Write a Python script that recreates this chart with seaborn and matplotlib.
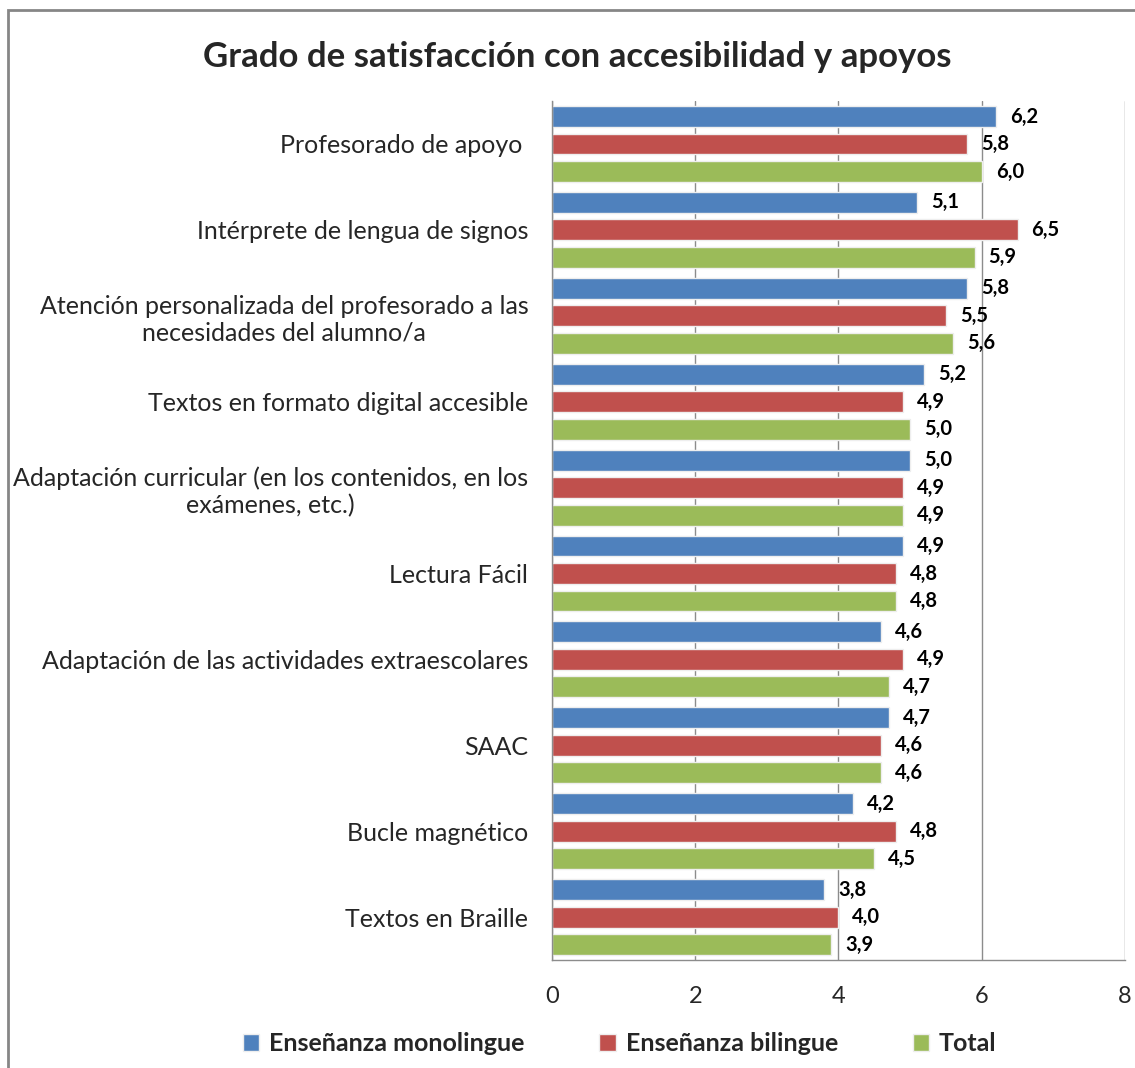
import pandas as pd
import matplotlib.pyplot as plt
import seaborn as sns
from matplotlib.patches import Patch, Rectangle

# Chart data
categories = [
    'Profesorado de apoyo ',
    'Intérprete de lengua de signos',
    'Atención personalizada del profesorado a las\nnecesidades del alumno/a',
    'Textos en formato digital accesible',
    'Adaptación curricular (en los contenidos, en los\nexámenes, etc.)',
    'Lectura Fácil',
    'Adaptación de las actividades extraescolares',
    'SAAC',
    'Bucle magnético',
    'Textos en Braille',
]
series = ['Enseñanza monolingue', 'Enseñanza bilingue', 'Total']
monolingue = [6.2, 5.1, 5.8, 5.2, 5.0, 4.9, 4.6, 4.7, 4.2, 3.8]
bilingue = [5.8, 6.5, 5.5, 4.9, 4.9, 4.8, 4.9, 4.6, 4.8, 4.0]
total = [6.0, 5.9, 5.6, 5.0, 4.9, 4.8, 4.7, 4.6, 4.5, 3.9]
colors = ['#4F81BD', '#C0504D', '#9BBB59']

df = pd.DataFrame({
    'categoria': categories * 3,
    'serie': [s for s in series for _ in categories],
    'valor': monolingue + bilingue + total,
})

sns.set_style('white')
plt.rcParams['font.family'] = ['Lato', 'DejaVu Sans']

fig = plt.figure(figsize=(11.35, 10.68), dpi=100)
ax = fig.add_axes([0.4863, 0.1011, 0.5049, 0.8043])

sns.barplot(data=df, x='valor', y='categoria', hue='serie', order=categories,
            hue_order=series, palette=colors, saturation=1, width=0.96, gap=0.24,
            edgecolor='#eeeeee', linewidth=1, orient='h', ax=ax, legend=False)

for cont in ax.containers:
    ax.bar_label(cont, labels=[f'{v:.1f}'.replace('.', ',') for v in cont.datavalues],
                 padding=10, fontsize=14.5, fontweight='bold', color='black')

ax.set_xlim(0, 8)
ax.set_xticks([0, 2, 4, 6, 8])
ax.xaxis.grid(True, color='#8c8c8c', linewidth=1)
ax.set_axisbelow(True)
ax.set_xlabel('')
ax.set_ylabel('')
ax.tick_params(axis='x', labelsize=17, pad=19, length=0)
ax.tick_params(axis='y', labelsize=18, pad=17, length=0)
for lab in ax.get_yticklabels():
    lab.set_multialignment('center')

for side in ['top', 'right']:
    ax.spines[side].set_visible(False)
for side in ['left', 'bottom']:
    ax.spines[side].set_color('#8c8c8c')
    ax.spines[side].set_linewidth(1)

fig.text(0.509, 0.9466, 'Grado de satisfacción con accesibilidad y apoyos',
         ha='center', va='center', fontsize=25, fontweight='bold')

handles = [Patch(facecolor=c, edgecolor='#eeeeee') for c in colors]
fig.legend(handles, series, loc='center', bbox_to_anchor=(0.546, 0.0225), ncol=3,
           frameon=False, prop={'weight': 'bold', 'size': 18},
           handlelength=0.65, handleheight=0.65, handletextpad=0.4, columnspacing=3.0)

fig.patches.append(Rectangle((8 / 1135, -0.05), 1.2, 1 - 10 / 1068 + 0.05,
                             transform=fig.transFigure, fill=False,
                             edgecolor='#868686', linewidth=2))

fig.savefig('out.png', dpi=100)
plt.close(fig)
